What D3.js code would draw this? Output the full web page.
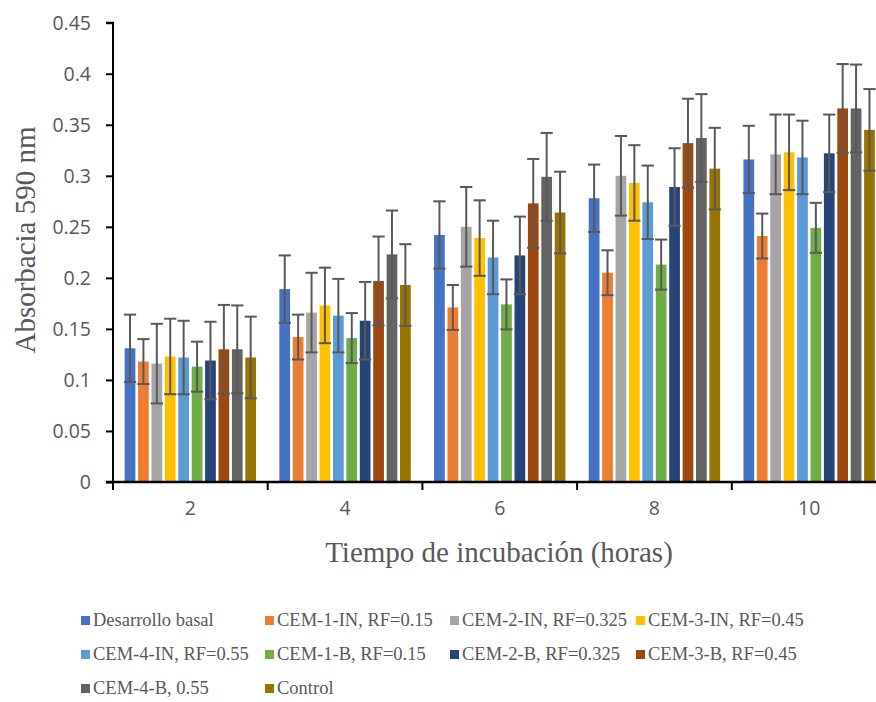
<!DOCTYPE html>
<html>
<head>
<meta charset="utf-8">
<script src="https://cdn.jsdelivr.net/npm/d3@7"></script>
<style>
	body { margin: 0; background: #fff; }
	svg { display: block; }
	.tick-label { font-family: "Open Sans", sans-serif; font-size: 19.5px; fill: #595959; }
	.title { font-family: "Liberation Serif", "Times New Roman", serif; font-size: 29px; fill: #595959; }
	.legend text { font-family: "Liberation Serif", "Times New Roman", serif; font-size: 18.5px; fill: #595959; }
</style>
</head>
<body>
<svg id="chart" width="876" height="702"></svg>
<script>
// data
const hours = ["2", "4", "6", "8", "10"];
const series = [
	"Desarrollo basal",
	"CEM-1-IN, RF=0.15",
	"CEM-2-IN, RF=0.325",
	"CEM-3-IN, RF=0.45",
	"CEM-4-IN, RF=0.55",
	"CEM-1-B, RF=0.15",
	"CEM-2-B, RF=0.325",
	"CEM-3-B, RF=0.45",
	"CEM-4-B, 0.55",
	"Control"
];
const colors = ["#4472C4", "#ED7D31", "#A5A5A5", "#FFC000", "#5B9BD5", "#70AD47", "#264478", "#9E480E", "#636363", "#997300"];

// one row per series, one value per hour
const values = [
	[0.131, 0.189, 0.242, 0.278, 0.316],
	[0.118, 0.142, 0.171, 0.205, 0.241],
	[0.116, 0.166, 0.250, 0.300, 0.321],
	[0.123, 0.173, 0.239, 0.293, 0.323],
	[0.122, 0.163, 0.220, 0.274, 0.318],
	[0.113, 0.141, 0.174, 0.213, 0.249],
	[0.119, 0.158, 0.222, 0.289, 0.322],
	[0.130, 0.197, 0.273, 0.332, 0.366],
	[0.130, 0.223, 0.299, 0.337, 0.366],
	[0.122, 0.193, 0.264, 0.307, 0.345]
];
const errors = [0.033, 0.022, 0.039, 0.037, 0.036, 0.0245, 0.038, 0.0435, 0.043, 0.040];

const yTicks = [0, 0.05, 0.1, 0.15, 0.2, 0.25, 0.3, 0.35, 0.4, 0.45];
const yTickLabels = ["0", "0.05", "0.1", "0.15", "0.2", "0.25", "0.3", "0.35", "0.4", "0.45"];

const svg = d3.select("#chart");

const plotLeft = 113,
	plotRight = 886.5,
	plotTop = 22.7,
	plotBottom = 482;

const x0 = d3.scaleBand().domain(hours).range([plotLeft, plotRight]).padding(0);
const x1 = d3.scaleBand().domain(series).range([0, x0.bandwidth()]).paddingInner(0.2).paddingOuter(0.87);
const y = d3.scaleLinear().domain([0, 0.45]).range([plotBottom, plotTop]);

const rows = [];
series.forEach((s, si) => {
	hours.forEach((h, hi) => {
		rows.push({ series: s, si: si, hour: h, value: values[si][hi], err: errors[si] });
	});
});

// bars
svg
	.append("g")
	.attr("class", "bars")
	.selectAll("rect")
	.data(rows)
	.enter()
	.append("rect")
	.attr("x", (d) => x0(d.hour) + x1(d.series))
	.attr("y", (d) => y(d.value))
	.attr("width", x1.bandwidth())
	.attr("height", (d) => plotBottom - y(d.value))
	.attr("fill", (d) => colors[d.si]);

// error bars
const capW = x1.bandwidth() + 1.5;
const eb = svg
	.append("g")
	.attr("class", "errors")
	.attr("stroke", "#595959")
	.attr("stroke-width", 2)
	.selectAll("g")
	.data(rows)
	.enter()
	.append("g")
	.attr("transform", (d) => `translate(${x0(d.hour) + x1(d.series) + x1.bandwidth() / 2},0)`);

eb.append("line")
	.attr("x1", 0)
	.attr("x2", 0)
	.attr("y1", (d) => y(d.value + d.err))
	.attr("y2", (d) => y(d.value - d.err));
eb.append("line")
	.attr("x1", -capW / 2)
	.attr("x2", capW / 2)
	.attr("y1", (d) => y(d.value + d.err))
	.attr("y2", (d) => y(d.value + d.err));
eb.append("line")
	.attr("x1", -capW / 2)
	.attr("x2", capW / 2)
	.attr("y1", (d) => y(d.value - d.err))
	.attr("y2", (d) => y(d.value - d.err));

// y axis
const yAxis = svg
	.append("g")
	.attr("transform", `translate(${plotLeft},0)`)
	.call(
		d3.axisLeft(y)
			.tickValues(yTicks)
			.tickFormat((d, i) => yTickLabels[i])
			.tickSize(7)
			.tickPadding(15)
	);
yAxis.select(".domain").attr("stroke", "#000").attr("stroke-width", 2).attr("d", `M-7,${plotTop}H0V${plotBottom}`);
yAxis.selectAll(".tick line").attr("stroke", "#000").attr("stroke-width", 2);
yAxis.selectAll(".tick text").attr("class", "tick-label").attr("dy", "0.35em");

// x axis
const xAxis = svg
	.append("g")
	.attr("transform", `translate(0,${plotBottom})`)
	.call(d3.axisBottom(x0).tickSize(0).tickPadding(19));
xAxis.select(".domain").attr("stroke", "#000").attr("stroke-width", 2.5).attr("d", `M${plotLeft - 7},0H${plotRight}`);
xAxis.selectAll(".tick text").attr("class", "tick-label").attr("dy", "0.71em");

// category separators on x axis
svg
	.append("g")
	.selectAll("line")
	.data(hours)
	.enter()
	.append("line")
	.attr("x1", (d) => x0(d))
	.attr("x2", (d) => x0(d))
	.attr("y1", plotBottom)
	.attr("y2", plotBottom + 8)
	.attr("stroke", "#000")
	.attr("stroke-width", 2);

// axis titles
svg
	.append("text")
	.attr("class", "title")
	.attr("x", 499)
	.attr("y", 562)
	.attr("text-anchor", "middle")
	.text("Tiempo de incubación (horas)");

svg
	.append("text")
	.attr("class", "title")
	.attr("transform", "translate(35,240) rotate(-90)")
	.attr("text-anchor", "middle")
	.text("Absorbacia 590 nm");

// legend
const colX = [81, 265, 450, 636];
const rowY = [616, 650, 684];
const legend = svg
	.append("g")
	.attr("class", "legend")
	.selectAll("g")
	.data(series)
	.enter()
	.append("g")
	.attr("transform", (d, i) => `translate(${colX[i % 4]},${rowY[Math.floor(i / 4)]})`);

legend
	.append("rect")
	.attr("width", 9)
	.attr("height", 9)
	.attr("fill", (d, i) => colors[i]);

legend
	.append("text")
	.attr("x", 12)
	.attr("y", 10)
	.text((d) => d);
</script>
</body>
</html>
